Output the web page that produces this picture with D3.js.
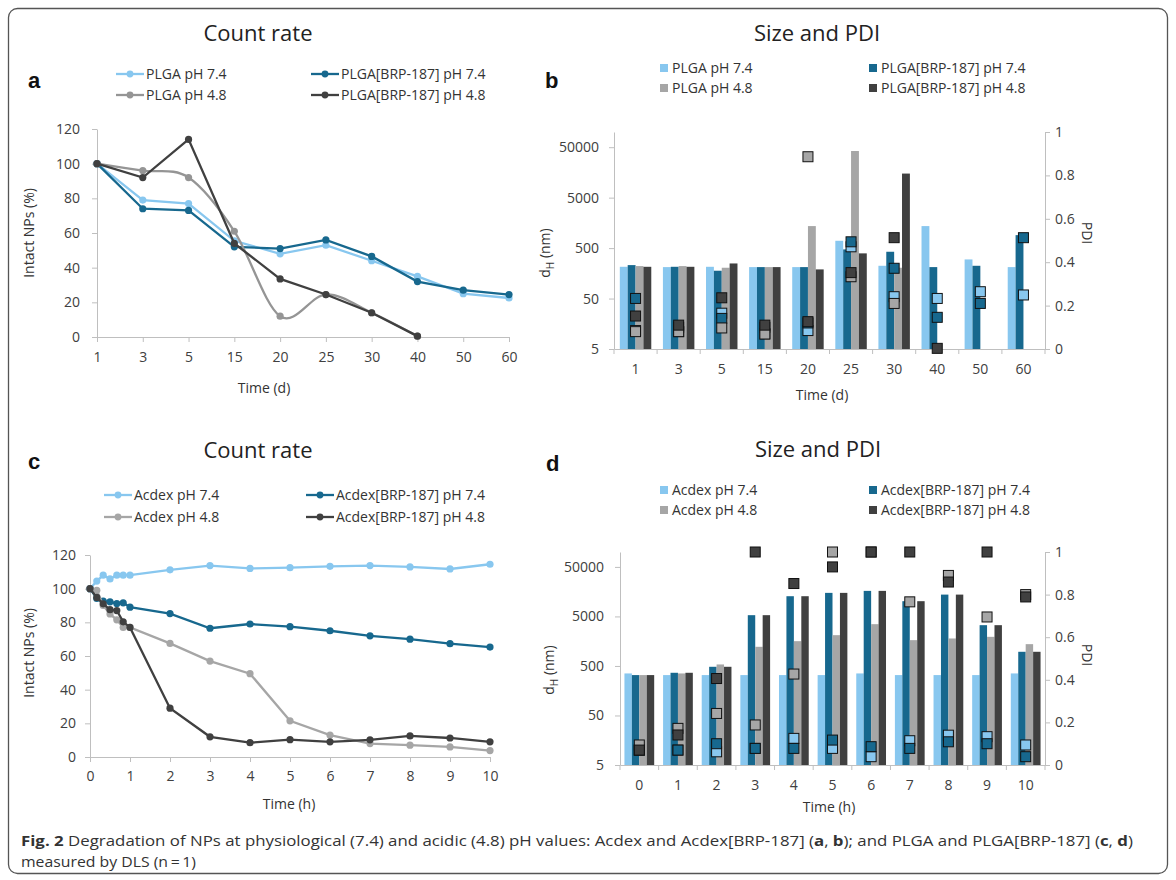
<!DOCTYPE html>
<html>
<head>
<meta charset="utf-8">
<script src="https://cdn.jsdelivr.net/npm/d3@7"></script>
<style>
body { margin: 0; background: #fff; }
text { font-family: "Open Sans", sans-serif; }
</style>
</head>
<body>
<div id="chart"></div>
<script>
// ---------- data ----------
// panel a: count rate, PLGA (days)
var daysA = ["1", "3", "5", "15", "20", "25", "30", "40", "50", "60"];
var plga74 = [100, 79, 77, 55.5, 48, 53, 44, 35, 25, 22.5];
var plgaBrp74 = [100, 74, 73, 52, 51, 56, 46.5, 32, 27, 24.5];
var plga48 = [100, 96, 92, 61, 12, 24.5, 14, 0.5, null, null];
var plgaBrp48 = [100, 92, 114, 54, 33.5, 24.5, 14, 0.5, null, null];

// panel b: size (nm) and PDI, PLGA (days)
var sizePlga74 = [213, 210, 213, 210, 210, 698, 223, 1365, 298, 210];
var sizePlgaBrp74 = [230, 213, 178, 210, 210, 471, 423, 210, 223, 904];
var sizePlga48 = [220, 220, 204, 210, 1365, 42000, 204, null, null, null];
var sizePlgaBrp48 = [213, 213, 248, 210, 189, 393, 15000, null, null, null];
var pdiPlga74 = [0.085, 0.08, 0.165, 0.07, 0.085, 0.471, 0.241, 0.233, 0.264, 0.249];
var pdiPlgaBrp74 = [0.233, 0.1, 0.141, 0.1, 0.12, 0.494, 0.372, 0.146, 0.21, 0.513];
var pdiPlga48 = [0.08, 0.08, 0.097, 0.069, 0.886, 0.333, 0.21, null, null, null];
var pdiPlgaBrp48 = [0.152, 0.11, 0.236, 0.11, 0.126, 0.352, 0.513, 0.003, null, null];

// panel c: count rate, Acdex (hours)
var hoursC = [0, 0.17, 0.33, 0.5, 0.67, 0.83, 1, 2, 3, 4, 5, 6, 7, 8, 9, 10];
var acdex74 = [100, 104.5, 108, 105.8, 108, 108, 108, 111.2, 113.7, 112, 112.5, 113.3, 113.7, 112.9, 111.7, 114.5];
var acdexBrp74 = [100, 94.2, 92.6, 92.2, 91.2, 91.6, 89, 85.2, 76.5, 79, 77.4, 75, 72, 70, 67.3, 65.3];
var acdex48 = [100, 99, 90, 85, 81.5, 77, 77, 67.5, 57, 49.5, 21.5, 13, 8, 7, 6, 3.8];
var acdexBrp48 = [100, 94.8, 91, 87.5, 87, 80.3, 77, 29, 12, 8.5, 10.3, 9, 10.2, 12.5, 11.3, 9];

// panel d: size (nm) and PDI, Acdex (hours)
var hoursD = ["0", "1", "2", "3", "4", "5", "6", "7", "8", "9", "10"];
var sizeAcdex74 = [353, 327, 327, 327, 327, 327, 353, 327, 327, 327, 353];
var sizeAcdexBrp74 = [327, 364, 481, 5300, 12800, 14950, 16400, 10160, 13800, 3330, 966];
var sizeAcdex48 = [327, 353, 536, 1218, 1583, 2093, 3490, 1660, 1794, 1937, 1378];
var sizeAcdexBrp48 = [327, 364, 481, 5300, 12800, 14950, 16400, 10160, 13800, 3330, 966];
var pdiAcdex74 = [0.07, 0.07, 0.062, 0.078, 0.125, 0.078, 0.039, 0.114, 0.14, 0.133, 0.094];
var pdiAcdexBrp74 = [0.07, 0.07, 0.1, 0.078, 0.078, 0.117, 0.086, 0.078, 0.109, 0.1, 0.039];
var pdiAcdex48 = [0.094, 0.172, 0.242, 0.188, 0.427, 1.0, 1.0, 0.766, 0.89, 0.695, 0.8];
var pdiAcdexBrp48 = [0.07, 0.141, 0.406, 1.0, 0.852, 0.93, 1.0, 1.0, 0.859, 1.0, 0.789];

var sizeTicks = [5, 50, 500, 5000, 50000];
var pdiTicks = [0, 0.2, 0.4, 0.6, 0.8, 1];
var countTicks = [0, 20, 40, 60, 80, 100, 120];

var col = { lb: "#88c7ef", teal: "#17688e", gray: "#a6a6a6", grayLine: "#959595", dark: "#404040" };

// ---------- svg ----------
var width = 1176, height = 880;
var svg = d3.select("#chart").append("svg")
	.attr("width", width)
	.attr("height", height);

svg.append("rect")
	.attr("x", 8.5).attr("y", 8.5)
	.attr("width", 1159).attr("height", 865)
	.attr("rx", 9)
	.attr("fill", "none")
	.attr("stroke", "#555")
	.attr("stroke-width", 1.3);

function styleAxis(g) {
	g.select(".domain").attr("stroke", "#bfbfbf");
	g.selectAll(".tick line").attr("stroke", "#bfbfbf");
	g.selectAll(".tick text")
		.attr("fill", "#404040")
		.style("font-size", "14px")
		.style("font-family", "Open Sans");
}

function label(txt, x, y, opts) {
	opts = opts || {};
	var t = svg.append("text")
		.attr("x", x).attr("y", y)
		.attr("text-anchor", opts.anchor || "middle")
		.attr("fill", opts.fill || "#333")
		.style("font-size", (opts.size || 14) + "px")
		.text(txt);
	if (opts.bold) t.style("font-weight", "bold").style("font-family", "Liberation Sans, Arial, sans-serif");
	if (opts.rotate) t.attr("transform", "rotate(" + opts.rotate + "," + x + "," + y + ")");
	return t;
}

// line legend: line + dot + text
function lineLegend(items) {
	items.forEach(function(it) {
		var g = svg.append("g").attr("transform", "translate(" + it.x + "," + it.y + ")");
		g.append("line").attr("x1", 0).attr("x2", 28).attr("stroke", it.color).attr("stroke-width", 2.3);
		g.append("circle").attr("cx", 14).attr("r", 3.4).attr("fill", it.color);
		g.append("text").attr("x", 30).attr("dy", "0.35em").attr("fill", "#333")
			.style("font-size", "14px").text(it.name);
	});
}

function boxLegend(items) {
	items.forEach(function(it) {
		var g = svg.append("g").attr("transform", "translate(" + it.x + "," + it.y + ")");
		g.append("rect").attr("y", -4).attr("width", 8).attr("height", 8).attr("fill", it.color);
		g.append("text").attr("x", 12).attr("dy", "0.35em").attr("fill", "#333")
			.style("font-size", "14px").text(it.name);
	});
}

// ---------- line chart (a, c) ----------
function countChart(o) {
	var g = svg.append("g");
	var y = d3.scaleLinear().domain([0, 120]).range([o.bottom, o.top]);
	var x = o.x;

	g.append("g")
		.attr("transform", "translate(" + o.left + ",0)")
		.call(d3.axisLeft(y).tickValues(countTicks).tickSize(5).tickPadding(o.yPad).tickSizeOuter(0))
		.call(styleAxis);

	var xa = d3.axisBottom(x).tickSize(5).tickPadding(o.xPad).tickSizeOuter(0);
	if (o.xTicks) xa.tickValues(o.xTicks);
	g.append("g")
		.attr("transform", "translate(0," + o.bottom + ")")
		.call(xa)
		.call(styleAxis);

	o.series.forEach(function(s) {
		var pts = o.xs.map(function(k, i) { return { x: k, v: s.values[i] }; })
			.filter(function(d) { return d.v != null; });
		var line = d3.line()
			.x(function(d) { return x(d.x); })
			.y(function(d) { return y(d.v); })
			.curve(s.smooth ? d3.curveCardinal.tension(0) : d3.curveLinear);
		g.append("path").datum(pts)
			.attr("d", line)
			.attr("fill", "none")
			.attr("stroke", s.color)
			.attr("stroke-width", 2.3);
		g.selectAll(null).data(pts).enter().append("circle")
			.attr("cx", function(d) { return x(d.x); })
			.attr("cy", function(d) { return y(d.v); })
			.attr("r", 3.6)
			.attr("fill", s.color);
	});
}

// ---------- bar + PDI chart (b, d) ----------
function sizeChart(o) {
	var g = svg.append("g");
	var x0 = d3.scaleBand().domain(o.cats).range([o.left, o.right])
		.paddingInner(o.pad).paddingOuter(o.pad / 2);
	var x1 = d3.scaleBand().domain(d3.range(4)).range([0, x0.bandwidth()]);
	var y = d3.scaleLog().domain([5, 100000]).range([o.bottom, o.top]);
	var yP = d3.scaleLinear().domain([0, 1]).range([o.bottom, o.top]);

	// bars
	o.sizes.forEach(function(vals, si) {
		var data = o.cats.map(function(c, i) { return { c: c, v: vals[i] }; })
			.filter(function(d) { return d.v != null; });
		g.selectAll(null).data(data).enter().append("rect")
			.attr("x", function(d) { return x0(d.c) + x1(si); })
			.attr("width", x1.bandwidth())
			.attr("y", function(d) { return y(d.v); })
			.attr("height", function(d) { return o.bottom - y(d.v); })
			.attr("fill", o.colors[si]);
	});

	// axes
	g.append("g")
		.attr("transform", "translate(" + o.left + ",0)")
		.call(d3.axisLeft(y).tickValues(sizeTicks).tickFormat(d3.format("d")).tickSize(5).tickPadding(o.yPad).tickSizeOuter(0))
		.call(styleAxis);

	g.append("g")
		.attr("transform", "translate(" + o.right + ",0)")
		.call(d3.axisRight(yP).tickValues(pdiTicks)
			.tickFormat(function(d) { return (d === 0 || d === 1) ? d : d3.format(".1f")(d); })
			.tickSize(5).tickPadding(5).tickSizeOuter(0))
		.call(styleAxis);

	var xg = g.append("g")
		.attr("transform", "translate(0," + o.bottom + ")")
		.call(d3.axisBottom(x0).tickSize(0).tickPadding(o.xPad).tickSizeOuter(0))
		.call(styleAxis);
	xg.selectAll(null).data(d3.range(o.cats.length + 1)).enter().append("line")
		.attr("x1", function(i) { return o.left + i * x0.step(); })
		.attr("x2", function(i) { return o.left + i * x0.step(); })
		.attr("y2", 5)
		.attr("stroke", "#bfbfbf");

	// PDI squares
	o.pdis.forEach(function(vals, si) {
		var data = o.cats.map(function(c, i) { return { c: c, v: vals[i] }; })
			.filter(function(d) { return d.v != null; });
		g.selectAll(null).data(data).enter().append("rect")
			.attr("x", function(d) { return x0(d.c) + x0.bandwidth() / 2 - 5; })
			.attr("y", function(d) { return yP(d.v) - 5; })
			.attr("width", 10).attr("height", 10)
			.attr("fill", o.colors[si])
			.attr("stroke", "#111")
			.attr("stroke-width", 1);
	});
}

// ---------- panel a ----------
label("Count rate", 258, 41, { size: 22, fill: "#222" });
label("a", 28, 88, { size: 22, bold: true, anchor: "start", fill: "#111" });
lineLegend([
	{ name: "PLGA pH 7.4", color: col.lb, x: 116, y: 74 },
	{ name: "PLGA[BRP-187] pH 7.4", color: col.teal, x: 311, y: 74 },
	{ name: "PLGA pH 4.8", color: col.grayLine, x: 116, y: 95 },
	{ name: "PLGA[BRP-187] pH 4.8", color: col.dark, x: 311, y: 95 }
]);
countChart({
	left: 97, top: 129, bottom: 337, yPad: 12, xPad: 10,
	x: d3.scalePoint().domain(daysA).range([97, 509]),
	xs: daysA,
	series: [
		{ values: plga74, color: col.lb },
		{ values: plgaBrp74, color: col.teal },
		{ values: plga48, color: col.grayLine, smooth: true },
		{ values: plgaBrp48, color: col.dark }
	]
});
label("Time (d)", 264, 393);
label("Intact NPs (%)", 34, 233, { rotate: -90 });

// ---------- panel b ----------
label("Size and PDI", 817, 41, { size: 22, fill: "#222" });
label("b", 545, 88, { size: 22, bold: true, anchor: "start", fill: "#111" });
boxLegend([
	{ name: "PLGA pH 7.4", color: col.lb, x: 660, y: 68 },
	{ name: "PLGA[BRP-187] pH 7.4", color: col.teal, x: 869, y: 68 },
	{ name: "PLGA pH 4.8", color: col.gray, x: 660, y: 88 },
	{ name: "PLGA[BRP-187] pH 4.8", color: col.dark, x: 869, y: 88 }
]);
sizeChart({
	left: 614, right: 1045, top: 132, bottom: 349, pad: 0.27, yPad: 10, xPad: 15,
	cats: daysA,
	colors: [col.lb, col.teal, col.gray, col.dark],
	sizes: [sizePlga74, sizePlgaBrp74, sizePlga48, sizePlgaBrp48],
	pdis: [pdiPlga74, pdiPlgaBrp74, pdiPlga48, pdiPlgaBrp48]
});
label("Time (d)", 822, 400);
var dhB = label("d", 550, 253, { rotate: -90 });
dhB.append("tspan").attr("dy", 4).style("font-size", "10px").text("H");
dhB.append("tspan").attr("dy", -4).text(" (nm)");
label("PDI", 1082, 233, { rotate: 90 });

// ---------- panel c ----------
label("Count rate", 258, 458, { size: 22, fill: "#222" });
label("c", 28, 469, { size: 22, bold: true, anchor: "start", fill: "#111" });
lineLegend([
	{ name: "Acdex pH 7.4", color: col.lb, x: 104, y: 495 },
	{ name: "Acdex[BRP-187] pH 7.4", color: col.teal, x: 306, y: 495 },
	{ name: "Acdex pH 4.8", color: col.gray, x: 104, y: 517 },
	{ name: "Acdex[BRP-187] pH 4.8", color: col.dark, x: 306, y: 517 }
]);
countChart({
	left: 90, top: 555, bottom: 757, yPad: 9, xPad: 9,
	x: d3.scaleLinear().domain([0, 10]).range([90, 490]),
	xTicks: d3.range(0, 11),
	xs: hoursC,
	series: [
		{ values: acdex74, color: col.lb },
		{ values: acdexBrp74, color: col.teal },
		{ values: acdex48, color: col.gray },
		{ values: acdexBrp48, color: col.dark }
	]
});
label("Time (h)", 289, 809);
label("Intact NPs (%)", 34, 653, { rotate: -90 });

// ---------- panel d ----------
label("Size and PDI", 818, 457, { size: 22, fill: "#222" });
label("d", 546, 471, { size: 22, bold: true, anchor: "start", fill: "#111" });
boxLegend([
	{ name: "Acdex pH 7.4", color: col.lb, x: 660, y: 490 },
	{ name: "Acdex[BRP-187] pH 7.4", color: col.teal, x: 869, y: 490 },
	{ name: "Acdex pH 4.8", color: col.gray, x: 660, y: 510 },
	{ name: "Acdex[BRP-187] pH 4.8", color: col.dark, x: 869, y: 510 }
]);
sizeChart({
	left: 620, right: 1045, top: 552, bottom: 765, pad: 0.23, yPad: 11, xPad: 15,
	cats: hoursD,
	colors: [col.lb, col.teal, col.gray, col.dark],
	sizes: [sizeAcdex74, sizeAcdexBrp74, sizeAcdex48, sizeAcdexBrp48],
	pdis: [pdiAcdex74, pdiAcdexBrp74, pdiAcdex48, pdiAcdexBrp48]
});
label("Time (h)", 829, 812);
var dhD = label("d", 554, 670, { rotate: -90 });
dhD.append("tspan").attr("dy", 4).style("font-size", "10px").text("H");
dhD.append("tspan").attr("dy", -4).text(" (nm)");
label("PDI", 1082, 655, { rotate: 90 });

// ---------- caption ----------
var cap = svg.append("text")
	.attr("x", 21).attr("y", 846)
	.attr("fill", "#333")
	.style("font-size", "15px")
	.attr("textLength", 1112)
	.attr("lengthAdjust", "spacingAndGlyphs");
[["Fig. 2", true], ["  Degradation of NPs at physiological (7.4) and acidic (4.8) pH values: Acdex and Acdex[BRP-187] (", false],
 ["a", true], [", ", false], ["b", true], ["); and PLGA and PLGA[BRP-187] (", false],
 ["c", true], [", ", false], ["d", true], [")", false]].forEach(function(p) {
	cap.append("tspan").style("font-weight", p[1] ? "bold" : "normal").text(p[0]);
});
svg.append("text")
	.attr("x", 21).attr("y", 867)
	.attr("fill", "#333")
	.style("font-size", "15px")
	.attr("textLength", 175)
	.attr("lengthAdjust", "spacingAndGlyphs")
	.text("measured by DLS (n\u2009=\u20091)");
</script>
</body>
</html>
